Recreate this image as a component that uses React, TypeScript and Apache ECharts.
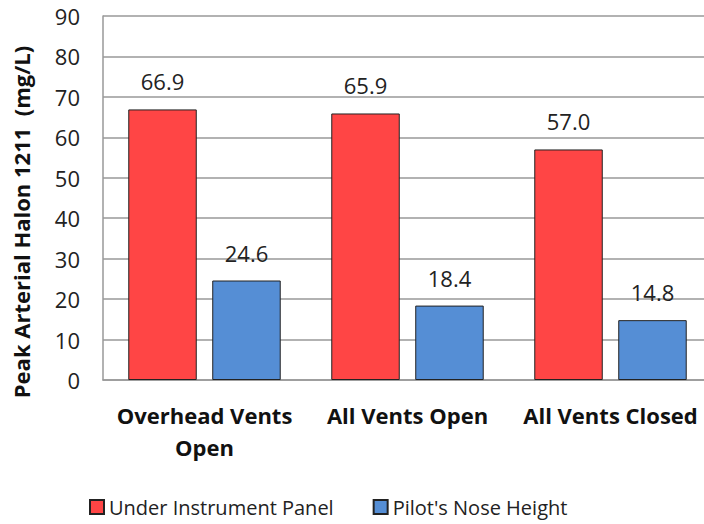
import React, { useEffect, useRef } from "react";
import * as echarts from "echarts";

const categories = ["Overhead Vents\nOpen", "All Vents Open", "All Vents Closed"];
const underPanel = [66.9, 65.9, 57.0];
const noseHeight = [24.6, 18.4, 14.8];
const seriesNames = ["Under Instrument Panel", "Pilot's Nose Height"];
const yTitle = "Peak Arterial Halon 1211  (mg/L)";

const FONT = "'Open Sans', sans-serif";

export default function App() {
  const ref = useRef<HTMLDivElement>(null);
  useEffect(() => {
    if (!ref.current) return;
    const chart = echarts.init(ref.current, null, { renderer: "svg" });
    const label = {
      show: true,
      position: "top",
      distance: 17,
      fontFamily: FONT,
      fontSize: 22,
      color: "#222",
      formatter: (p: any) => Number(p.value).toFixed(1),
    };
    chart.setOption({
      animation: false,
      textStyle: { fontFamily: FONT },
      grid: { left: 103, right: 0, top: 16, bottom: 144, containLabel: false },
      legend: {
        bottom: 2,
        left: 84,
        itemWidth: 14,
        itemHeight: 14,
        itemGap: 39,
        icon: "rect",
        textStyle: { fontFamily: FONT, fontSize: 20, color: "#222" },
        data: seriesNames,
      },
      xAxis: {
        type: "category",
        data: categories,
        axisLine: { show: true, lineStyle: { color: "#999", width: 1.5 } },
        axisTick: { show: false },
        axisLabel: {
          margin: 19,
          fontFamily: FONT,
          fontSize: 22,
          fontWeight: "bold",
          color: "#111",
          lineHeight: 32,
          interval: 0,
        },
      },
      yAxis: {
        type: "value",
        min: 0,
        max: 90,
        interval: 10,
        axisLine: { show: true, lineStyle: { color: "#999", width: 1.5 } },
        axisTick: { show: false },
        axisLabel: { margin: 23, fontFamily: FONT, fontSize: 22, color: "#222" },
        splitLine: { show: true, lineStyle: { color: "#999", width: 1.5 } },
      },
      graphic: [
        {
          type: "text",
          x: 21,
          y: 222,
          rotation: Math.PI / 2,
          style: {
            text: yTitle,
            fontFamily: FONT,
            fontSize: 22,
            fontWeight: "bold",
            fill: "#111",
            align: "center",
            verticalAlign: "middle",
          },
        },
      ],
      series: [
        {
          name: seriesNames[0],
          type: "bar",
          data: underPanel,
          barGap: "22.6%",
          barCategoryGap: "24.9%",
          itemStyle: { color: "#FF4545", borderColor: "#222", borderWidth: 1 },
          label,
        },
        {
          name: seriesNames[1],
          type: "bar",
          data: noseHeight,
          itemStyle: { color: "#558ED5", borderColor: "#222", borderWidth: 1 },
          label,
        },
      ],
    });
    return () => chart.dispose();
  }, []);
  return (
    <div style={{ width: 704, height: 524, position: "absolute", left: 0, top: 0, overflow: "hidden", background: "#fff" }}>
      <div ref={ref} style={{ width: 712, height: 524 }} />
    </div>
  );
}
